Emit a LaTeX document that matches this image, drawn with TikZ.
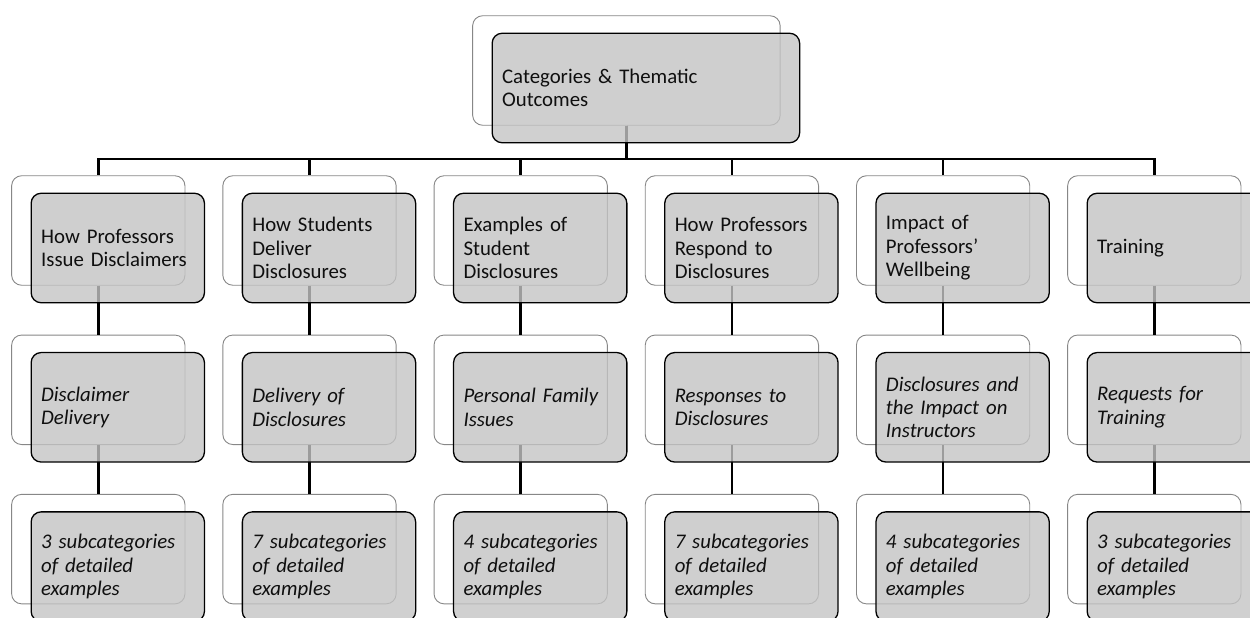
\documentclass[tikz,border=0pt]{standalone}
\usepackage{fontspec}
\setmainfont{Carlito}
\usetikzlibrary{calc}
\definecolor{frontgray}{RGB}{196,196,196}
\definecolor{backline}{RGB}{135,135,135}
\definecolor{txt}{RGB}{15,15,15}
\tikzset{
  backbox/.style={draw=backline, line width=0.9pt, fill=white, rounded corners=10pt,
    minimum width=173.3pt, minimum height=109.5pt, inner sep=0pt},
  topback/.style={backbox, minimum width=307.5pt},
  frontbox/.style={draw=black, line width=1.3pt, fill=frontgray, fill opacity=0.8, text opacity=1,
    rounded corners=10pt, minimum height=109.5pt, inner xsep=10pt, inner ysep=0pt,
    text width=153.3pt, align=left, text=txt,
    font=\fontsize{20.8pt}{23.4pt}\selectfont},
  topfront/.style={frontbox, text width=287.5pt},
  itfront/.style={frontbox, font=\fontsize{20.8pt}{23.4pt}\selectfont\itshape},
  conn/.style={draw=black, line width=2.6pt},
}
\begin{document}
\begin{tikzpicture}[x=1pt,y=-1pt]
\useasboundingbox (0,0) rectangle (1250,618);
\clip (0,0) rectangle (1250,618);
% back boxes
\node[topback] (topb) at (626.4,70.5) {};
\foreach \i in {0,...,5}{
  \pgfmathsetmacro{\cx}{98.3+211.2*\i}
  \node[backbox] (a\i b) at (\cx,230.5) {};
  \node[backbox] (b\i b) at (\cx,389.8) {};
  \node[backbox] (c\i b) at (\cx,549.1) {};
}
% connectors
\coordinate (bar) at (626.4,159);
\foreach \i in {0,...,5}{
  \draw[conn] (topb.south) -- (bar) -| (a\i b.north);
  \draw[conn] (a\i b.south) -- (b\i b.north);
  \draw[conn] (b\i b.south) -- (c\i b.north);
}
% front boxes
\node[topfront] (top) at ($(topb.center)+(19.5,17.5)$) {Categories \& Thematic\\Outcomes};
\foreach \i/\t in {0/{How Professors\\Issue Disclaimers},1/{How Students\\Deliver\\Disclosures},2/{Examples of\\Student\\Disclosures},3/{How Professors\\Respond to\\Disclosures},4/{Impact of\\Professors’\\Wellbeing},5/{Training}}{
  \node[frontbox] (a\i) at ($(a\i b.center)+(19.5,17.5)$) {\t};
}
\foreach \i/\t in {0/{Disclaimer\\Delivery},1/{Delivery of\\Disclosures},2/{Personal Family\\Issues},3/{Responses to\\Disclosures},4/{Disclosures and\\the Impact on\\Instructors},5/{Requests for\\Training}}{
  \node[itfront] (b\i) at ($(b\i b.center)+(19.5,17.5)$) {\t};
}
\foreach \i/\n in {0/3,1/7,2/4,3/7,4/4,5/3}{
  \node[itfront] (c\i) at ($(c\i b.center)+(19.5,17.5)$) {\n{} subcategories\\of detailed\\examples};
}
\end{tikzpicture}
\end{document}
